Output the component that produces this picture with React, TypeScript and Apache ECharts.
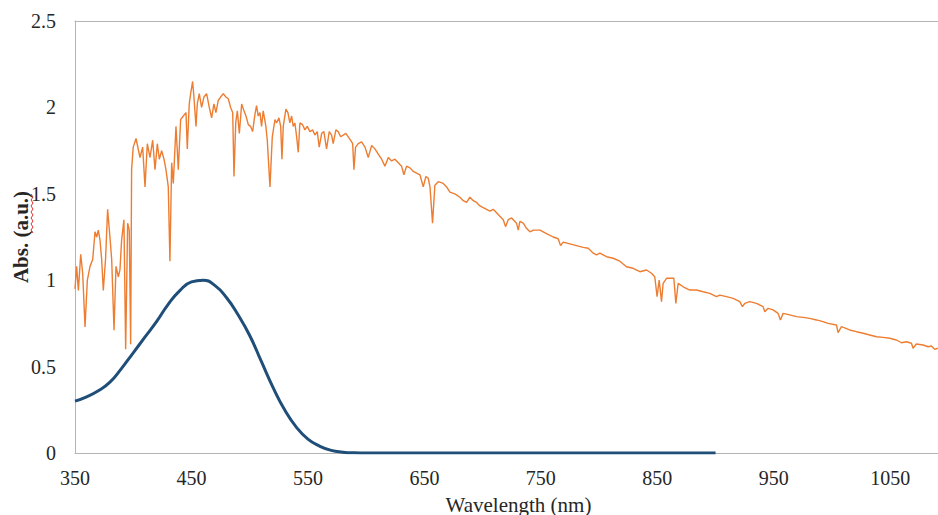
import React, { useEffect, useRef } from "react";
import * as echarts from "echarts";

// Orange series: noisy spectrum (wavelength nm, absorbance a.u.)
const orangeNm = [
  350, 351.4, 352.9, 354.9, 356.6, 358.6, 360.6, 362.9, 365.2, 367.2, 368.6, 370, 371.5, 372.9, 374.3,
  376.3, 378, 380, 381.5, 383.5, 385.2, 387.2, 388.6, 390, 392, 393.5, 395.2, 396.6, 397.8, 398.6,
  400, 402.4, 405.8, 408.1, 410.1, 412.1, 414.4, 416.7, 418.7, 420.7, 422.4, 424.4, 426.4, 428.1, 430.1,
  431.5, 433, 434.4, 436.7, 438.7, 440.7, 443, 445.3, 446.4, 448.1, 449.3, 451, 452.1, 453.9, 455,
  456.7, 458.7, 460.7, 463, 465.3, 467.3, 469.3, 471, 473, 475, 477.3, 479.6, 481.6, 483.6, 485.4,
  486.5, 488, 489.4, 491.1, 493.1, 495.1, 496.8, 498.8, 500.8, 502.5, 504.5, 505.9, 507.3, 508.8, 510.2,
  511.6, 513.9, 515.1, 517.4, 519.4, 521.7, 523.1, 525.1, 526.6, 527.7, 528.8, 531.1, 532.8, 534.5, 536,
  537.4, 538.8, 540.3, 541.7, 543.1, 545.4, 547.4, 549.4, 551.7, 554, 556, 558, 559.7, 561.8, 563.7,
  566, 568.3, 570.3, 571.7, 574, 576, 578.1, 580.3, 582.6, 584.6, 586.6, 588.4, 589.5, 590.9, 593.2,
  596.1, 599, 601.8, 604.7, 607.5, 610.4, 613.3, 616.1, 619, 621.9, 624.7, 627.6, 630.4, 632.4, 634.7,
  637.6, 640.4, 643.3, 646.2, 649, 651.3, 653.3, 654.8, 657, 659, 661.9, 666.2, 669.1, 671.9, 676.2,
  680.5, 683.4, 686.2, 689.1, 692, 694.8, 697.7, 700.5, 703.4, 706.3, 709.1, 712, 714.8, 717.7, 719.7,
  722, 724.9, 729.1, 730.6, 732, 734.9, 737.7, 740.6, 743.5, 749.2, 754.9, 760.6, 764.9, 766.9, 769.2,
  774.9, 780.6, 786.4, 790.7, 795, 797.8, 800.7, 806.4, 812.1, 817.8, 823.5, 829.2, 835, 840.7, 845,
  847.8, 849.8, 851.6, 853.6, 855, 857.9, 862.1, 864.2, 865.9, 867.9, 872.2, 877.9, 883.6, 889.3, 895.1,
  900.8, 903.6, 909.4, 915.1, 920.8, 923.1, 925.1, 929.4, 935.1, 940.8, 942.3, 945.1, 949.4, 953.7, 955.7,
  958, 963.7, 969.4, 975.2, 980.9, 986.6, 992.3, 996.6, 1003.8, 1005.2, 1008.1, 1015.2, 1021, 1026.7, 1032.4,
  1038.1, 1043.8, 1049.6, 1055.3, 1059.6, 1063.9, 1068.2, 1069.6, 1072.4, 1078.2, 1082.5, 1085.3, 1088.2, 1090.8,
];
const orangeAbs = [
  0.95, 1.08, 0.94, 1.15, 1.04, 0.73, 1.0, 1.08, 1.12, 1.28, 1.25, 1.29, 1.23, 1.12, 0.94,
  1.13, 1.41, 1.25, 1.12, 0.71, 1.08, 1.02, 1.06, 1.23, 1.35, 0.6, 1.33, 1.29, 0.63, 1.64,
  1.77, 1.82, 1.71, 1.77, 1.54, 1.79, 1.71, 1.81, 1.64, 1.79, 1.7, 1.75, 1.7, 1.64, 1.54,
  1.11, 1.68, 1.56, 1.89, 1.64, 1.93, 1.95, 1.97, 1.76, 2.02, 2.08, 2.15, 2.06, 1.89, 2.02,
  2.08, 2.0, 2.06, 2.08, 2.0, 1.94, 2.02, 1.97, 2.04, 2.06, 2.08, 2.06, 2.05, 2.0, 1.97,
  1.6, 1.91, 1.98, 1.85, 2.02, 1.98, 1.95, 1.9, 1.89, 1.86, 1.96, 2.01, 1.95, 1.97, 1.89,
  1.98, 1.89, 1.81, 1.54, 1.83, 1.93, 1.91, 1.94, 1.89, 1.7, 1.89, 1.99, 1.97, 1.91, 1.95,
  1.89, 1.91, 1.83, 1.74, 1.91, 1.9, 1.87, 1.89, 1.86, 1.87, 1.84, 1.86, 1.77, 1.85, 1.86,
  1.76, 1.86, 1.84, 1.79, 1.87, 1.86, 1.83, 1.84, 1.85, 1.83, 1.81, 1.79, 1.64, 1.77, 1.79,
  1.8, 1.77, 1.71, 1.78, 1.76, 1.73, 1.7, 1.66, 1.71, 1.69, 1.7, 1.68, 1.66, 1.61, 1.66,
  1.65, 1.63, 1.62, 1.61, 1.54, 1.6, 1.59, 1.54, 1.33, 1.55, 1.57, 1.56, 1.54, 1.51, 1.5,
  1.48, 1.46, 1.45, 1.48, 1.46, 1.45, 1.43, 1.42, 1.41, 1.4, 1.41, 1.39, 1.37, 1.35, 1.31,
  1.35, 1.36, 1.33, 1.29, 1.34, 1.33, 1.3, 1.28, 1.29, 1.29, 1.27, 1.25, 1.24, 1.2, 1.22,
  1.21, 1.2, 1.19, 1.185, 1.156, 1.146, 1.156, 1.136, 1.127, 1.11, 1.078, 1.069, 1.049, 1.059, 1.04,
  1.02, 0.905, 1.0, 0.876, 0.982, 1.011, 1.011, 1.011, 0.866, 0.982, 0.962, 0.943, 0.943, 0.933, 0.924,
  0.905, 0.914, 0.905, 0.895, 0.876, 0.847, 0.866, 0.876, 0.866, 0.847, 0.818, 0.837, 0.828, 0.808, 0.77,
  0.808, 0.799, 0.789, 0.785, 0.779, 0.77, 0.76, 0.75, 0.741, 0.696, 0.731, 0.712, 0.702, 0.693, 0.683,
  0.673, 0.669, 0.664, 0.654, 0.638, 0.644, 0.635, 0.606, 0.631, 0.625, 0.615, 0.619, 0.6, 0.606,
];

// Blue series: smooth absorption band
const blueNm = [
  350, 360, 370, 380, 390, 400, 410, 420, 430, 440, 450, 460, 470, 480, 490, 500, 510, 520, 530, 540,
  550, 560, 570, 580, 590, 600, 650, 700, 750, 800, 850, 900,
];
const blueAbs = [
  0.3, 0.325, 0.36, 0.41, 0.49, 0.58, 0.67, 0.76, 0.86, 0.94, 0.99, 1.0, 0.97, 0.9, 0.8, 0.68, 0.53, 0.38, 0.25, 0.15,
  0.08, 0.04, 0.015, 0.005, 0.001, 0, 0, 0, 0, 0, 0, 0,
];

const xMin = 350;
const xMax = 1091;
const xStep = 100;
const yTicks = [0, 0.5, 1, 1.5, 2, 2.5];

const serif = "Times New Roman, Liberation Serif, DejaVu Serif, serif";

export default function App() {
  const ref = useRef<HTMLDivElement>(null);

  useEffect(() => {
    if (!ref.current) return;
    const chart = echarts.init(ref.current, undefined, { renderer: "svg" });
    const orangeData = orangeNm.map((x, i) => [x, orangeAbs[i]]);
    const blueData = blueNm.map((x, i) => [x, blueAbs[i]]);
    const axisColor = "#b4b4b4";
    chart.setOption({
      animation: false,
      backgroundColor: "#ffffff",
      grid: { left: 75, right: 0, top: 21, bottom: 62, containLabel: false, outerBoundsMode: "none" },
      xAxis: [
        {
          type: "value",
          min: xMin,
          max: xMax,
          interval: xStep,
          position: "bottom",
          name: "Wavelength (nm)",
          nameLocation: "middle",
          nameGap: 41,
          nameTextStyle: { fontFamily: serif, fontSize: 21, color: "#262626", padding: [0, 0, 0, 24] },
          axisLine: { show: true, lineStyle: { color: axisColor, width: 1 } },
          axisTick: { show: false },
          splitLine: { show: false },
          axisLabel: {
            fontFamily: serif,
            fontSize: 20,
            color: "#262626",
            margin: 15,
            showMaxLabel: false,
            formatter: (v: number) => String(v),
          },
        },
        {
          type: "value",
          min: xMin,
          max: xMax,
          position: "top",
          axisLine: { show: true, onZero: false, lineStyle: { color: axisColor, width: 1 } },
          axisTick: { show: false },
          axisLabel: { show: false },
          splitLine: { show: false },
        },
      ],
      yAxis: {
        type: "value",
        min: yTicks[0],
        max: yTicks[yTicks.length - 1],
        interval: 0.5,
        name: "Abs. (a.u.)",
        nameLocation: "middle",
        nameRotate: 90,
        nameGap: 44,
        nameMoveOverlap: false,
        nameTextStyle: { fontFamily: serif, fontSize: 21, fontWeight: "bold", color: "#262626" },
        axisLine: { show: true, lineStyle: { color: axisColor, width: 1 } },
        axisTick: { show: false },
        splitLine: { show: false },
        axisLabel: {
          fontFamily: serif,
          fontSize: 20,
          color: "#262626",
          margin: 19,
          formatter: (v: number) => String(v),
        },
      },
      series: [
        {
          type: "line",
          data: orangeData,
          xAxisIndex: 0,
          showSymbol: false,
          symbol: "none",
          lineStyle: { color: "#ed7d31", width: 1.4 },
          z: 2,
        },
        {
          type: "line",
          data: blueData,
          xAxisIndex: 0,
          showSymbol: false,
          symbol: "none",
          smooth: 0.5,
          lineStyle: { color: "#1f4e79", width: 3 },
          z: 3,
        },
      ],
      graphic: [
        {
          type: "polyline",
          shape: {
            points: [
              [31, 194], [33, 197], [31, 200], [33, 203], [31, 206], [33, 209], [31, 212], [33, 215],
              [31, 218], [33, 221], [31, 224], [33, 227], [31, 230], [33, 233],
            ],
          },
          style: { stroke: "#e03030", lineWidth: 1, fill: "none" },
        },
      ],
    });
    return () => chart.dispose();
  }, []);

  return (
    <div
      ref={ref}
      style={{ position: "fixed", left: 0, top: 0, width: 938, height: 515, background: "#fff" }}
    />
  );
}
